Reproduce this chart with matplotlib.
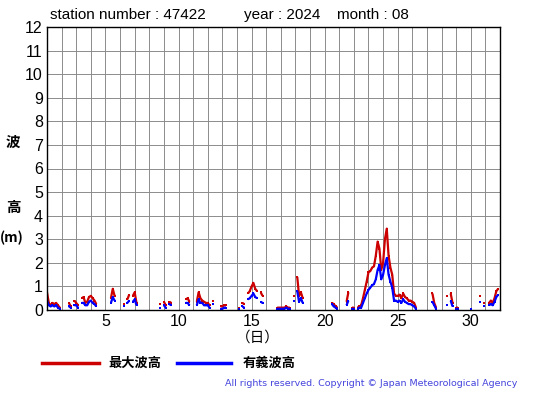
import numpy as np
import matplotlib
matplotlib.use("Agg")
from matplotlib import pyplot as plt

# ============================== data (3-hourly, nan = no obs) ==============================
station = "47422"
year = "2024"
month = "08"
n = np.nan

# max wave height per day, 00h..21h
max_wave = [
    [0.75, 0.3, 0.2, 0.3, 0.25, 0.3, 0.2, 0.1],      # 1
    [n, n, n, n, 0.3, 0.15, n, 0.4],                 # 2
    [0.3, 0.2, n, 0.5, 0.55, 0.3, 0.35, 0.55],       # 3
    [0.6, 0.5, 0.4, 0.25, n, n, n, n],               # 4
    [n, n, n, 0.5, 0.9, 0.6, n, n],                  # 5
    [n, n, 0.25, n, 0.45, 0.65, n, 0.6],             # 6
    [0.75, 0.3, n, n, n, n, n, n],                   # 7
    [n, n, n, n, n, n, 0.25, n],                     # 8
    [0.35, 0.2, n, 0.35, 0.3, n, n, n],              # 9
    [n, n, n, n, 0.45, 0.5, 0.35, n],                # 10
    [n, n, 0.35, 0.75, 0.5, 0.4, 0.35, 0.3],         # 11
    [0.3, 0.2, n, 0.4, n, n, n, 0.15],               # 12
    [0.15, 0.2, 0.2, n, n, n, n, n],                 # 13
    [n, 0.1, n, 0.3, 0.25, n, 0.7, 0.8],             # 14
    [1.0, 1.15, 0.9, 0.8, n, 0.75, 0.6, n],          # 15
    [n, n, n, n, n, n, 0.1, 0.1],                    # 16
    [0.1, 0.1, 0.1, 0.15, 0.1, 0.1, n, 0.6],         # 17
    [n, 1.4, 0.6, 0.75, 0.5, n, n, n],               # 18
    [n, n, n, n, n, n, n, n],                        # 19
    [n, n, n, n, 0.3, 0.25, 0.15, 0.1],              # 20
    [n, n, n, n, 0.35, 0.75, n, 0.1],                # 21
    [0.1, n, 0.1, 0.15, 0.2, 0.5, 0.85, 1.2],        # 22
    [1.6, 1.65, 1.8, 1.85, 2.3, 2.9, 2.6, 1.7],      # 23
    [2.0, 3.0, 3.45, 2.3, 1.8, 1.5, 0.7, 0.6],       # 24
    [0.6, 0.65, 0.5, 0.7, 0.55, 0.5, 0.4, 0.4],      # 25
    [0.35, 0.3, 0.1, n, n, n, n, n],                 # 26
    [n, n, n, 0.7, 0.3, 0.1, n, n],                  # 27
    [n, n, n, 0.6, n, 0.7, 0.3, n],                  # 28
    [0.1, 0.1, n, n, n, n, n, n],                    # 29
    [0.05, n, n, n, n, 0.6, n, 0.3],                 # 30
    [n, n, 0.3, 0.4, 0.3, 0.5, 0.8, 0.9],            # 31
]

# significant wave height per day, 00h..21h
sig_wave = [
    [0.4, 0.2, 0.15, 0.2, 0.15, 0.2, 0.1, 0.05],
    [n, n, n, n, 0.15, 0.1, n, 0.2],
    [0.2, 0.1, n, 0.3, 0.3, 0.2, 0.2, 0.35],
    [0.4, 0.3, 0.25, 0.15, n, n, n, n],
    [n, n, n, 0.3, 0.55, 0.4, n, n],
    [n, n, 0.15, n, 0.3, 0.4, n, 0.35],
    [0.45, 0.2, n, n, n, n, n, n],
    [n, n, n, n, n, n, 0.1, n],
    [0.2, 0.1, n, 0.25, 0.2, n, n, n],
    [n, n, n, n, 0.3, 0.3, 0.2, n],
    [n, n, 0.2, 0.45, 0.3, 0.3, 0.2, 0.2],
    [0.2, 0.1, n, 0.25, n, n, n, 0.05],
    [0.05, 0.1, 0.1, n, n, n, n, n],
    [n, 0.05, n, 0.15, 0.1, n, 0.45, 0.5],
    [0.6, 0.7, 0.55, 0.5, n, 0.35, 0.3, n],
    [n, n, n, n, n, n, 0.05, 0.05],
    [0.05, 0.05, 0.05, 0.1, 0.05, 0.05, n, 0.4],
    [n, 0.8, 0.35, 0.5, 0.3, n, n, n],
    [n, n, n, n, n, n, n, n],
    [n, n, n, n, 0.25, 0.15, 0.1, 0.05],
    [n, n, n, n, 0.2, 0.4, n, 0.05],
    [0.05, n, 0.05, 0.1, 0.1, 0.3, 0.5, 0.7],
    [0.85, 0.95, 1.05, 1.1, 1.3, 1.7, 1.9, 1.3],
    [1.5, 1.9, 2.2, 1.5, 1.2, 0.95, 0.4, 0.4],
    [0.35, 0.4, 0.3, 0.45, 0.35, 0.3, 0.25, 0.25],
    [0.2, 0.15, 0.05, n, n, n, n, n],
    [n, n, n, 0.35, 0.2, 0.05, n, n],
    [n, n, n, 0.2, n, 0.4, 0.15, n],
    [0.05, 0.05, n, n, n, n, n, n],
    [0.05, n, n, n, n, 0.35, n, 0.15],
    [n, n, 0.2, 0.25, 0.2, 0.35, 0.55, 0.65],
]

x_ticks = [5, 10, 15, 20, 25, 30]
y_ticks = list(range(0, 13))

# ================================== build time axis ========================================
max_wave = np.array(max_wave, dtype=float).ravel()
sig_wave = np.array(sig_wave, dtype=float).ravel()
t = 1 + np.arange(len(max_wave)) / 8.0

plt.rcParams['font.family'] = ['Noto Sans CJK JP', 'DejaVu Sans']
latin = "Liberation Sans"

fig = plt.figure(figsize=(5.55, 3.95), dpi=100)
ax = fig.add_axes([47 / 555, 1 - 310 / 395, 453 / 555, 283 / 395])

# markers so isolated readings still show up as dots
ax.plot(t, max_wave, color="#cc0000", lw=1.6, marker="s", ms=2, mew=0, solid_capstyle="butt")
ax.plot(t, sig_wave, color="#0000ff", lw=1.6, marker="s", ms=2, mew=0, solid_capstyle="butt")

ax.set_xlim(1, 32)
ax.set_ylim(0, 12)
ax.set_xticks(np.arange(1, 33))
ax.set_xticklabels([str(d) if d in x_ticks else "" for d in range(1, 33)],
                   fontsize=11.5, family=latin)
ax.set_yticks(y_ticks)
ax.set_yticklabels([str(v) for v in y_ticks], fontsize=11.5, family=latin)
ax.tick_params(length=0, pad=3)
ax.grid(True, color="#8c8c8c", lw=0.7)
for s in ax.spines.values():
    s.set_linewidth(1.0)
    s.set_color("black")

# title line
fig.text(50 / 555, 1 - 15 / 395, "station number : " + station, fontsize=11, va="center", family=latin)
fig.text(244 / 555, 1 - 15 / 395, "year : " + year, fontsize=11, va="center", family=latin)
fig.text(337 / 555, 1 - 15 / 395, "month : " + month, fontsize=11, va="center", family=latin)

# y label pieces
fig.text(13 / 555, 1 - 142 / 395, "波", fontsize=10.5, ha="center", va="center", weight="bold")
fig.text(13 / 555, 1 - 207 / 395, "高", fontsize=10.5, ha="center", va="center", weight="bold")
fig.text(0, 1 - 238 / 395, "(m)", fontsize=10, ha="left", va="center", weight="bold")
fig.text(258 / 555, 1 - 338 / 395, "（日）", fontsize=10.5, ha="center", va="center")

# legend
fig.add_artist(plt.Line2D([42 / 555, 99 / 555], [1 - 363 / 395] * 2, color="#cc0000", lw=2.5))
fig.text(108 / 555, 1 - 363 / 395, "最大波高", fontsize=9.5, va="center", weight="bold")
fig.add_artist(plt.Line2D([177 / 555, 231 / 555], [1 - 363 / 395] * 2, color="#0000ff", lw=2.5))
fig.text(243 / 555, 1 - 363 / 395, "有義波高", fontsize=9.5, va="center", weight="bold")

fig.text(517 / 555, 1 - 384 / 395, "All rights reserved. Copyright © Japan Meteorological Agency",
         fontsize=6.8, ha="right", va="center", color="#4444dd", family="DejaVu Sans")

fig.savefig("out.png", dpi=100)
